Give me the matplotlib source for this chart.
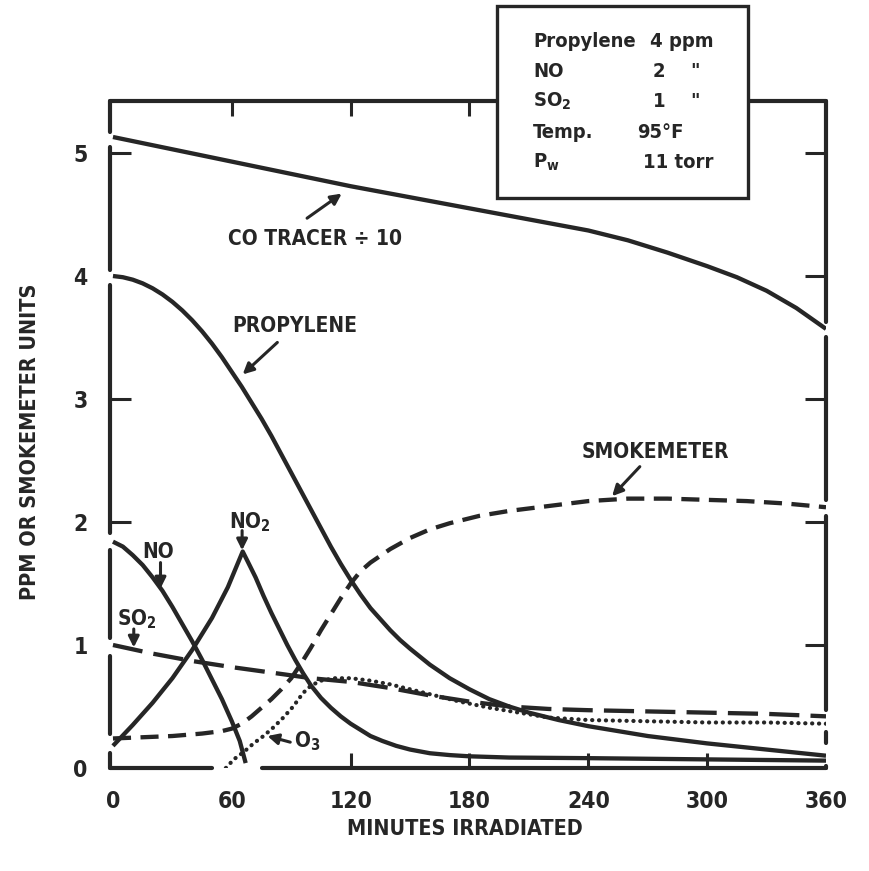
import matplotlib
matplotlib.use("Agg")
import matplotlib.pyplot as plt
from matplotlib.patches import Rectangle

# Irradiation run: propylene 4 ppm, NO 2 ppm, SO2 1 ppm, 95 F, 11 torr water
# All times in minutes irradiated, concentrations in ppm (smokemeter in its own units)

CO_T = [0, 30, 60, 90, 120, 150, 180, 210, 240, 260, 280, 300, 315, 330, 345, 360]
CO_Y = [5.13, 5.03, 4.93, 4.83, 4.73, 4.64, 4.55, 4.46, 4.37, 4.29, 4.19,
        4.08, 3.99, 3.88, 3.74, 3.57]

PROPYLENE_T = [0, 5, 10, 15, 20, 25, 30, 35, 40, 45, 50, 55, 60, 65, 70, 75,
               80, 85, 90, 95, 100, 105, 110, 115, 120, 125, 130, 135, 140,
               145, 150, 160, 170, 180, 190, 200, 210, 225, 240, 255, 270,
               285, 300, 330, 360]
PROPYLENE_Y = [4.00, 3.99, 3.97, 3.94, 3.90, 3.85, 3.79, 3.72, 3.64, 3.55,
               3.45, 3.34, 3.22, 3.10, 2.97, 2.84, 2.70, 2.55, 2.40, 2.25,
               2.10, 1.95, 1.80, 1.66, 1.53, 1.41, 1.30, 1.21, 1.12, 1.04,
               0.97, 0.84, 0.73, 0.64, 0.56, 0.50, 0.45, 0.39, 0.34, 0.30,
               0.26, 0.23, 0.20, 0.15, 0.10]

NO_T = [0, 5, 10, 15, 20, 25, 30, 35, 40, 45, 50, 55, 60, 64, 67]
NO_Y = [1.84, 1.80, 1.73, 1.65, 1.55, 1.44, 1.31, 1.17, 1.03, 0.88, 0.72,
        0.56, 0.38, 0.22, 0.04]

NO2_T = [0, 10, 20, 30, 40, 50, 58, 65.5, 68, 72, 76, 80, 84, 88, 92, 96, 100,
         105, 110, 115, 120, 125, 130, 136, 143, 150, 160, 170, 180, 200, 240,
         300, 360]
NO2_Y = [0.18, 0.35, 0.53, 0.73, 0.96, 1.22, 1.47, 1.76, 1.68, 1.55, 1.40,
         1.26, 1.13, 1.00, 0.88, 0.77, 0.67, 0.57, 0.49, 0.42, 0.36, 0.31,
         0.26, 0.22, 0.18, 0.15, 0.12, 0.105, 0.095, 0.085, 0.08, 0.07, 0.06]

SO2_T = [0, 20, 40, 60, 87, 100, 120, 140, 160, 180, 200, 220, 240, 270, 300, 330, 360]
SO2_Y = [1.0, 0.93, 0.87, 0.82, 0.76, 0.73, 0.70, 0.65, 0.59, 0.54, 0.50, 0.48,
         0.47, 0.46, 0.45, 0.44, 0.42]

O3_T = [57, 61, 66, 71, 76, 81, 86, 91, 96, 100, 105, 112, 120, 130, 140, 150,
        160, 175, 190, 205, 220, 240, 270, 300, 330, 360]
O3_Y = [0.0, 0.07, 0.13, 0.20, 0.26, 0.33, 0.41, 0.50, 0.61, 0.67, 0.71, 0.73,
        0.73, 0.71, 0.68, 0.64, 0.60, 0.54, 0.49, 0.45, 0.41, 0.39, 0.38, 0.37,
        0.37, 0.36]

SMOKE_T = [0, 15, 30, 45, 55, 60, 65, 70, 75, 80, 85, 90, 95, 100, 105, 110,
           115, 120, 125, 130, 140, 150, 160, 170, 185, 200, 220, 240, 260,
           280, 300, 320, 340, 360]
SMOKE_Y = [0.24, 0.25, 0.26, 0.28, 0.30, 0.32, 0.36, 0.42, 0.49, 0.56, 0.64,
           0.73, 0.85, 0.98, 1.12, 1.25, 1.38, 1.50, 1.60, 1.67, 1.78, 1.87,
           1.94, 1.99, 2.05, 2.09, 2.13, 2.17, 2.19, 2.19, 2.18, 2.17, 2.15,
           2.12]

X_TICKS = [0, 60, 120, 180, 240, 300, 360]
Y_TICKS = [0, 1, 2, 3, 4, 5]

CONDITIONS = [("Propylene", "4 ppm"), ("NO", "2"), ("SO$_\\mathregular{2}$", "1"),
              ("Temp.", "95°F"), ("P$_\\mathregular{w}$", "11 torr")]

INK = "#262626"
W, H = 870, 871

plt.rcParams["font.family"] = "DejaVu Sans"
plt.rcParams["font.weight"] = "bold"
plt.rcParams["font.stretch"] = "condensed"

fig = plt.figure(figsize=(W / 100, H / 100), dpi=100)
ax = fig.add_axes([110 / W, 1 - 768 / H, (826 - 110) / W, (768 - 101) / H])
X0, X1 = -1.5, 360
Y0, Y1 = 0, (768 - 101) / 123
ax.set_xlim(X0, X1)
ax.set_ylim(Y0, Y1)
for s in ax.spines.values():
    s.set_visible(False)

solid = dict(color=INK, lw=3.1, solid_capstyle="butt", solid_joinstyle="round")
ax.plot(CO_T, CO_Y, **solid)
ax.plot(PROPYLENE_T, PROPYLENE_Y, **solid)
ax.plot(NO_T, NO_Y, **solid)
ax.plot(NO2_T, NO2_Y, **solid)
ax.plot(SO2_T, SO2_Y, color=INK, lw=3.1, dashes=(7, 2.6), dash_capstyle="butt")
ax.plot(SMOKE_T, SMOKE_Y, color=INK, lw=3.1, dashes=(4.2, 2.2), dash_capstyle="butt")
ax.plot(O3_T, O3_Y, color=INK, lw=3.0, dashes=(0.05, 1.6), dash_capstyle="round")


def broken_line(fixed, lo, hi, gaps, vertical):
    # frame edge drawn in pieces, leaving openings where curves meet it
    edges = [lo] + [v for g in gaps for v in g] + [hi]
    for a, b in zip(edges[::2], edges[1::2]):
        xs, ys = ([fixed, fixed], [a, b]) if vertical else ([a, b], [fixed, fixed])
        ax.plot(xs, ys, color=INK, lw=3.0, solid_capstyle="round",
                clip_on=False, zorder=3)


broken_line(X0, Y0, Y1, [(0.12, 0.28), (0.91, 1.06), (1.77, 1.91),
                         (3.93, 4.05), (5.05, 5.17)], True)
broken_line(X1, Y0, Y1, [(0.02, 0.2), (0.29, 0.47), (2.05, 2.18),
                         (3.50, 3.63)], True)
broken_line(Y0, X0, X1, [(50, 75)], False)
broken_line(Y1, X0, X1, [], False)

ax.set_xticks(X_TICKS)
ax.set_xticklabels([str(t) for t in X_TICKS])
ax.set_yticks(Y_TICKS)
ax.set_yticklabels([str(t) for t in Y_TICKS])
ax.tick_params(axis="x", direction="in", length=11, width=2.2, color=INK,
               top=True, labelsize=16.5, pad=16, labelcolor=INK)
ax.tick_params(axis="y", direction="in", length=15, width=2.2, color=INK,
               right=True, labelsize=16.5, pad=16, labelcolor=INK)

xt = ax.xaxis.get_major_ticks()
for i in (0, 6):
    xt[i].tick1line.set_visible(False)
    xt[i].tick2line.set_visible(False)
xt[1].tick1line.set_visible(False)
yt = ax.yaxis.get_major_ticks()
yt[0].tick1line.set_visible(False)
yt[0].tick2line.set_visible(False)
for i in (1, 4):
    yt[i].tick1line.set_visible(False)

# curve labels with pointer arrows
lab = dict(fontsize=15, color=INK)
arrow = dict(arrowstyle="-|>", color=INK, lw=2.2, mutation_scale=16,
             shrinkA=0, shrinkB=0)

ax.text(102, 4.30, "CO TRACER ÷ 10", ha="center", va="center", **lab)
ax.annotate("", xy=(115.5, 4.67), xytext=(98, 4.47), arrowprops=arrow)

ax.text(92, 3.59, "PROPYLENE", ha="center", va="center", **lab)
ax.annotate("", xy=(65.5, 3.20), xytext=(83, 3.46), arrowprops=arrow)

ax.text(274, 2.57, "SMOKEMETER", ha="center", va="center", **lab)
ax.annotate("", xy=(252, 2.21), xytext=(266, 2.45), arrowprops=arrow)

ax.text(58.5, 1.95, "NO$_\\mathregular{2}$", ha="left", va="baseline", **lab)
ax.annotate("", xy=(65.2, 1.77), xytext=(65.2, 1.93), arrowprops=arrow)

ax.text(15, 1.71, "NO", ha="left", va="baseline", **lab)
ax.annotate("", xy=(24, 1.46), xytext=(24, 1.67), arrowprops=arrow)

ax.text(2, 1.16, "SO$_\\mathregular{2}$", ha="left", va="baseline", **lab)
ax.annotate("", xy=(10.5, 0.98), xytext=(10.5, 1.13), arrowprops=arrow)

ax.text(91.5, 0.17, "O$_\\mathregular{3}$", ha="left", va="baseline", **lab)
ax.annotate("", xy=(78, 0.26), xytext=(89.5, 0.21), arrowprops=arrow)

# axis titles
fig.text(465 / W, 1 - 829 / H, "MINUTES IRRADIATED", ha="center", va="center",
         fontsize=15.5, color=INK)
fig.text(30 / W, 1 - 442 / H, "PPM OR SMOKEMETER UNITS", ha="center", va="center",
         rotation=90, fontsize=15.5, color=INK)

# run conditions box, breaking the top of the frame
box = Rectangle((497 / W, 1 - 198 / H), (748 - 497) / W, (198 - 6) / H,
                transform=fig.transFigure, facecolor="white", edgecolor=INK,
                lw=2.4, zorder=10)
fig.add_artist(box)
baselines = [47, 77, 107, 138, 168]
for (name, value), yb in zip(CONDITIONS, baselines):
    fig.text(533 / W, 1 - yb / H, name, ha="left", va="baseline",
             fontsize=14.5, color=INK, zorder=11)
    if value in ("2", "1"):
        fig.text(659 / W, 1 - yb / H, value, ha="center", va="baseline",
                 fontsize=14.5, color=INK, zorder=11)
        fig.text(695 / W, 1 - yb / H, '"', ha="center", va="baseline",
                 fontsize=14.5, color=INK, zorder=11)
    else:
        x0 = {"4 ppm": 650, "95°F": 637, "11 torr": 643}[value]
        fig.text(x0 / W, 1 - yb / H, value, ha="left", va="baseline",
                 fontsize=14.5, color=INK, zorder=11)

fig.savefig("out.png", dpi=100, facecolor="white")
